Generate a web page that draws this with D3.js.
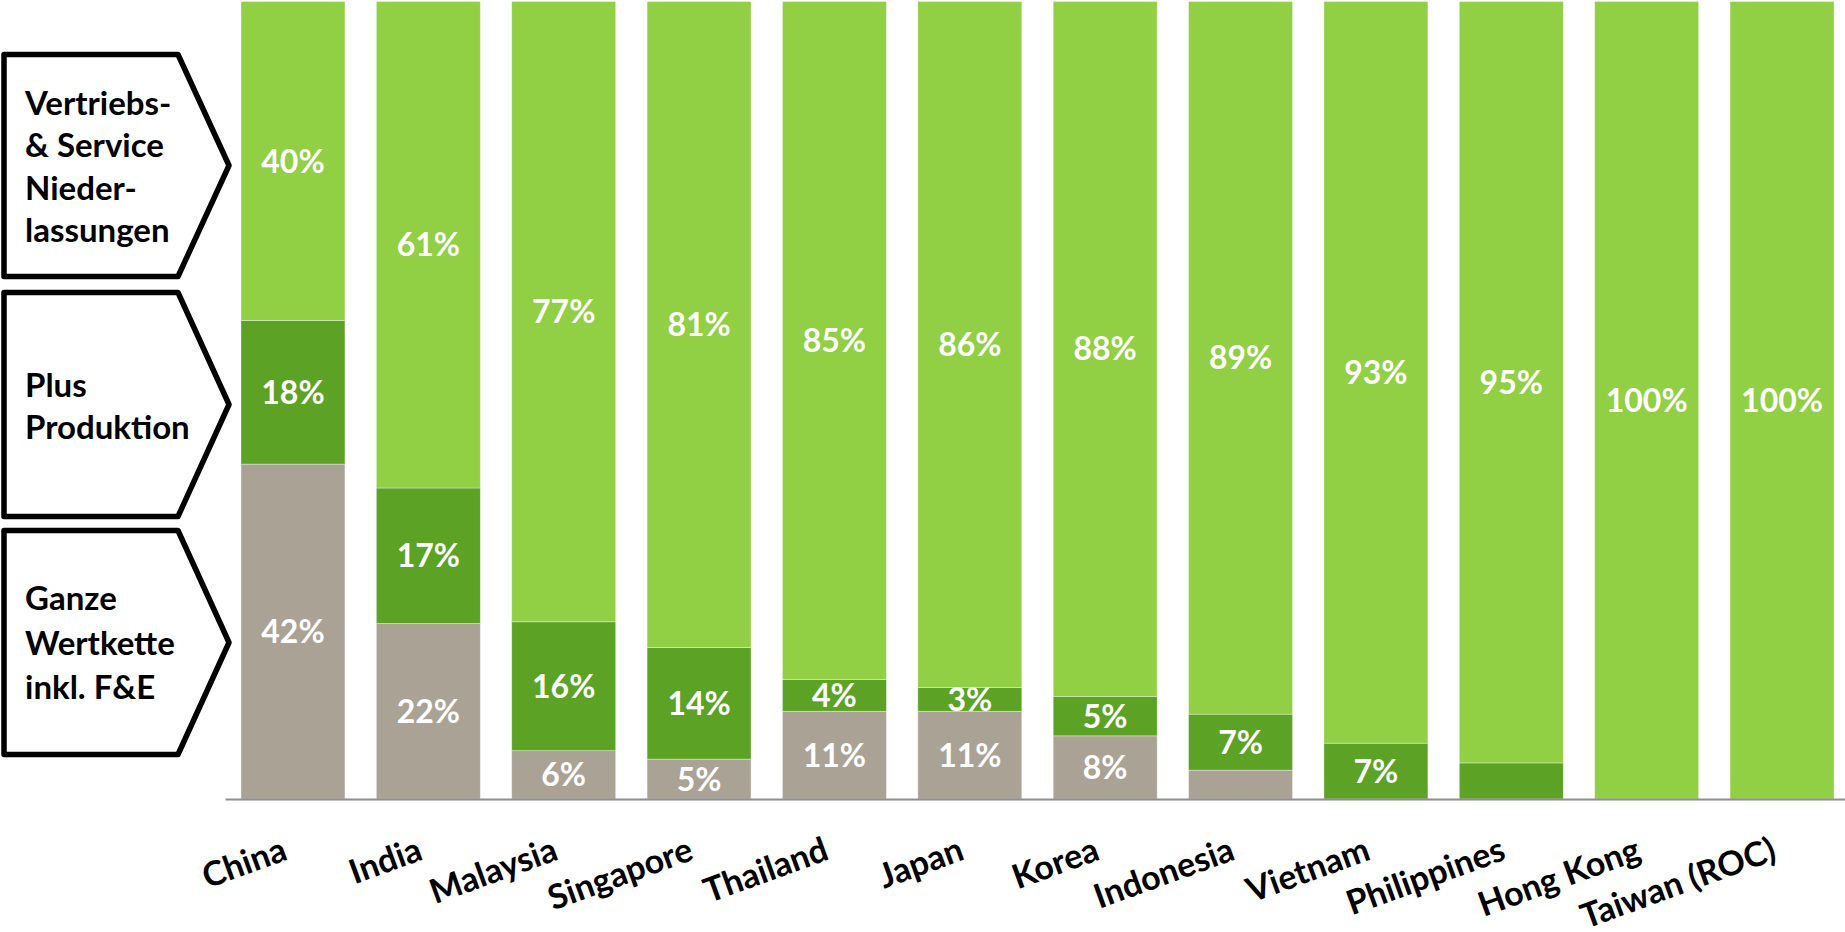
<!DOCTYPE html>
<html>
<head>
<meta charset="utf-8">
<script src="https://cdn.jsdelivr.net/npm/d3@7"></script>
<style>
  body { margin: 0; background: #fff; }
  svg { display: block; }
  text { font-family: Lato, "Open Sans", sans-serif; font-weight: 700; }
</style>
</head>
<body>
<svg id="chart" width="1845" height="932"></svg>
<script>
// Share of companies per country by depth of local presence (percent)
const countries = ["China", "India", "Malaysia", "Singapore", "Thailand", "Japan",
                   "Korea", "Indonesia", "Vietnam", "Philippines", "Hong Kong", "Taiwan (ROC)"];
const wholeChain   = [42, 22, 6, 5, 11, 11, 8, 3.6, 0, 0, 0, 0];       // Ganze Wertkette inkl. F&E
const production   = [18, 17, 16, 14, 4, 3, 5, 7, 7, 4.5, 0, 0];       // Plus Produktion
const salesService = [40, 61, 77, 81, 85, 86, 88, 89, 93, 95, 100, 100]; // Vertriebs- & Service

const seriesKeys   = ["whole", "production", "sales"];
const seriesColors = ["#aaa295", "#5ba225", "#91cf45"];
// Segments that carry no value label
const unlabeled = [["Indonesia", "whole"], ["Philippines", "production"]];

// Stage boxes on the left, top to bottom
const stageLabels = [
  ["Vertriebs-", "& Service", "Nieder-", "lassungen"],
  ["Plus", "Produktion"],
  ["Ganze", "Wertkette", "inkl. F&E"]
];

const svg = d3.select("#chart");
const baseY = 799, topY = 1.5;

const rows = countries.map((c, i) => ({
  country: c, whole: wholeChain[i], production: production[i], sales: salesService[i]
}));

const stacked = d3.stack().keys(seriesKeys).offset(d3.stackOffsetExpand)(rows);

const x = d3.scaleBand()
  .domain(countries)
  .range([225, 1850])
  .paddingInner(0.232)
  .paddingOuter(0.118);

const y = d3.scaleLinear().domain([0, 1]).range([baseY, topY]);

// Bars
const layers = svg.append("g").selectAll("g")
  .data(stacked)
  .join("g")
  .attr("fill", (d, i) => seriesColors[i]);

layers.selectAll("rect")
  .data(d => d.filter(s => s.data[d.key] > 0))
  .join("rect")
  .attr("x", s => x(s.data.country))
  .attr("width", x.bandwidth())
  .attr("y", s => y(s[1]))
  .attr("height", s => y(s[0]) - y(s[1]))
  .attr("stroke", "#ffffff")
  .attr("stroke-opacity", 0.45)
  .attr("stroke-width", 0.8);

// Value labels
const isHidden = (country, key) => unlabeled.some(([c, k]) => c === country && k === key);

layers.each(function (layer) {
  d3.select(this).selectAll("text")
    .data(layer.filter(s => s.data[layer.key] > 0 && !isHidden(s.data.country, layer.key)))
    .join("text")
    .attr("x", s => x(s.data.country) + x.bandwidth() / 2)
    .attr("y", s => (y(s[0]) + y(s[1])) / 2)
    .attr("dy", "0.36em")
    .attr("text-anchor", "middle")
    .attr("fill", "#ffffff")
    .attr("font-size", 32)
    .text(s => Math.round(s.data[layer.key]) + "%");
});

// Category axis
const axis = svg.append("g")
  .attr("transform", `translate(0,${baseY})`)
  .call(d3.axisBottom(x).tickSize(0).tickSizeOuter(0));

axis.select(".domain")
  .attr("stroke", "#8f8f8f")
  .attr("stroke-width", 2);

axis.selectAll(".tick text")
  .attr("x", 0)
  .attr("y", 0)
  .attr("dy", 0)
  .attr("text-anchor", "end")
  .attr("fill", "#000")
  .attr("font-size", 34)
  .attr("font-family", "Lato, 'Open Sans', sans-serif")
  .attr("font-weight", 700)
  .attr("transform", "translate(-4,60) rotate(-20)");

// Stage boxes (pentagon arrows)
const boxes = [
  { top: 54.5, bottom: 276.5, baselines: [115, 157, 199.5, 241.5] },
  { top: 292.5, bottom: 516.5, baselines: [397, 438.5] },
  { top: 530.5, bottom: 754.5, baselines: [610, 654.5, 698.5] }
];
const boxLeft = 4, boxShoulder = 178, boxTip = 229;

const boxG = svg.append("g");
boxes.forEach((b, i) => {
  const mid = (b.top + b.bottom) / 2;
  const p = d3.path();
  p.moveTo(boxLeft, b.top);
  p.lineTo(boxShoulder, b.top);
  p.lineTo(boxTip, mid);
  p.lineTo(boxShoulder, b.bottom);
  p.lineTo(boxLeft, b.bottom);
  p.closePath();
  boxG.append("path")
    .attr("d", p.toString())
    .attr("fill", "#fff")
    .attr("stroke", "#000")
    .attr("stroke-width", 5.5)
    .attr("stroke-linejoin", "round");
  boxG.append("g").selectAll("text")
    .data(stageLabels[i])
    .join("text")
    .attr("x", 25)
    .attr("y", (d, j) => b.baselines[j])
    .attr("fill", "#000")
    .attr("font-size", 33)
    .text(d => d);
});
</script>
</body>
</html>
